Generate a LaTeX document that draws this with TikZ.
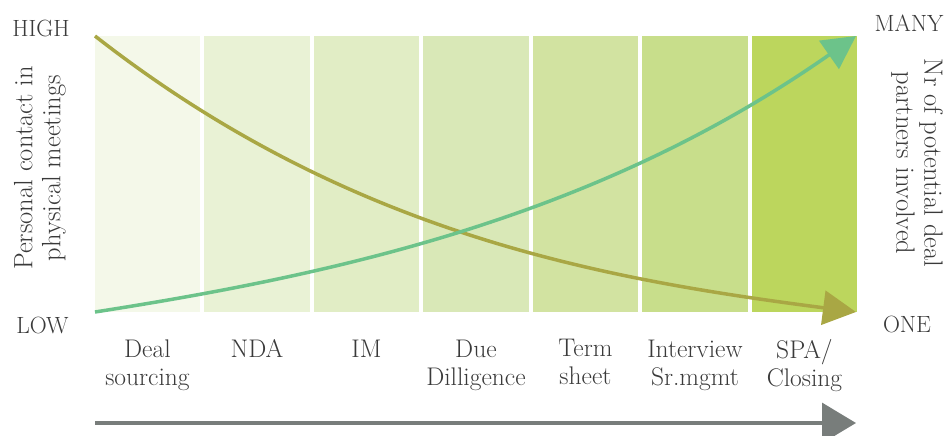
\documentclass[tikz,border=0pt]{standalone}
\usepackage{xcolor}
\usepackage{tikz}
\usetikzlibrary{arrows.meta,positioning}
\definecolor{col1}{HTML}{F4F8E9}
\definecolor{col2}{HTML}{E9F2D5}
\definecolor{col3}{HTML}{E1EDC5}
\definecolor{col4}{HTML}{D9E8B7}
\definecolor{col5}{HTML}{D2E3A1}
\definecolor{col6}{HTML}{C8DE8B}
\definecolor{col7}{HTML}{BCD65D}
\definecolor{curveOlive}{HTML}{A9A744}
\definecolor{curveGreen}{HTML}{6CC38A}
\definecolor{axisGray}{HTML}{787D7B}
\definecolor{textGray}{HTML}{3A3A3A}
\begin{document}
\begin{tikzpicture}[x=1pt, y=-1pt,
                stage/.style = {minimum width=105.5pt, minimum height=276pt, inner sep=0pt, anchor=north west},
                lbl/.style = {text=textGray, font=\fontsize{25.5}{28}\selectfont, align=center, anchor=north, inner sep=0pt},
                lvl/.style = {text=textGray, font=\fontsize{23.5}{26}\selectfont, anchor=base},
                side/.style = {text=textGray, font=\fontsize{26.5}{28}\selectfont, align=center},
                trend/.style = {line width=3.5pt, -{Triangle[length=33pt,width=34pt]}}]
            \useasboundingbox (0,0) rectangle (946,436);
            \foreach \i/\t in {1/{Deal\\sourcing},2/NDA,3/IM,4/{Due\\Dilligence},5/{Term\\sheet},6/{Interview\\Sr.mgmt},7/{SPA/\\Closing}}{
                \node[stage, fill=col\i] (c\i) at ({94.5+109.5*(\i-1)},36) {};
                \node[lbl] (l\i) at ([yshift=-27pt]c\i.south) {\t};
            }
            \coordinate (ps) at (95,36);
            \coordinate (pe) at (856,312);
            \coordinate (ns) at (95,312);
            \coordinate (ne) at (856,36);
            \draw[trend, curveOlive] (ps) .. controls (349,234.6) and (602,279) .. (pe);
            \draw[trend, curveGreen] (ns) .. controls (349,272.4) and (602,213.8) .. (ne);
            \node[lvl] (high) at (41,37) {HIGH};
            \node[lvl] (low) at (42.5,333) {LOW};
            \node[lvl] (many) at (909,32) {MANY};
            \node[lvl] (one) at (907,332) {ONE};
            \node[side, rotate=90] (pcm) at (40,168) {Personal contact in\\physical meetings};
            \node[side, rotate=-90] (nrp) at (917,163) {Nr of potential deal\\partners involved};
            % process direction
            \coordinate (ts) at (95,423);
            \coordinate (te) at (856,423);
            \draw[line width=3.3pt, axisGray, -{Triangle[length=34pt,width=40pt]}] (ts) -- (te);
\end{tikzpicture}
\end{document}
